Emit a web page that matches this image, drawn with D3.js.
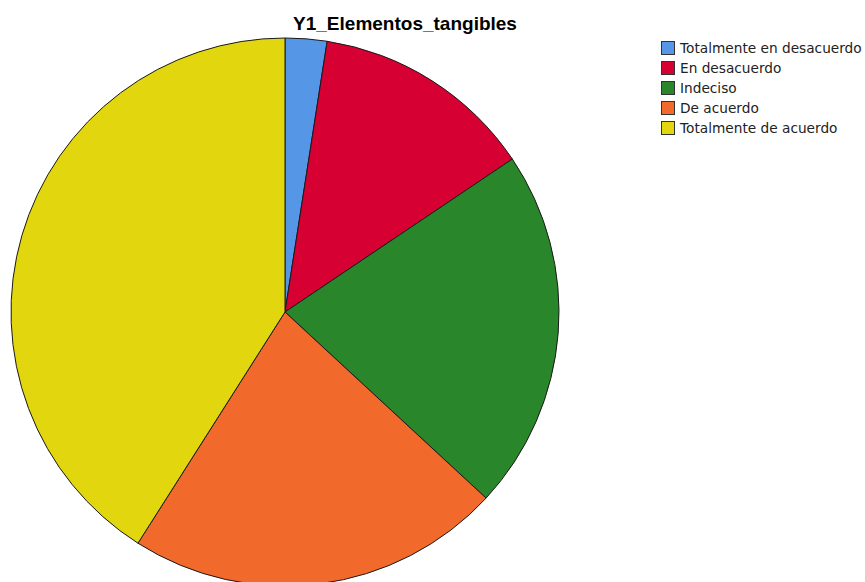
<!DOCTYPE html>
<html>
<head>
<meta charset="utf-8">
<script src="https://cdn.jsdelivr.net/npm/d3@7"></script>
<style>
  body { margin: 0; background: #fff; }
  svg { display: block; }
</style>
</head>
<body>
<div id="chart"></div>
<script>
// categories and counts
const categories = ["Totalmente en desacuerdo", "En desacuerdo", "Indeciso", "De acuerdo", "Totalmente de acuerdo"];
const counts = [3, 16, 26, 27, 50];
const colors = ["#5596e6", "#d60032", "#29862a", "#f2692c", "#e2d60f"];
const title = "Y1_Elementos_tangibles";

const width = 865, height = 582;
const cx = 285, cy = 312, radius = 274;

const svg = d3.select("#chart").append("svg")
  .attr("width", width)
  .attr("height", height);

// title
svg.append("text")
  .attr("x", 405)
  .attr("y", 30)
  .attr("text-anchor", "middle")
  .attr("font-family", "Liberation Sans, Arial, sans-serif")
  .attr("font-weight", "bold")
  .attr("font-size", "19px")
  .text(title);

// pie
const data = categories.map((c, i) => ({cat: c, value: counts[i], color: colors[i]}));
const pie = d3.pie().value(d => d.value).sort(null);
const arc = d3.arc().innerRadius(0).outerRadius(radius);

svg.append("g")
  .attr("transform", `translate(${cx},${cy})`)
  .selectAll("path")
  .data(pie(data))
  .enter().append("path")
    .attr("d", arc)
    .attr("fill", d => d.data.color)
    .attr("stroke", "#1a1a1a")
    .attr("stroke-width", 1);

// legend
const legend = svg.append("g")
  .attr("transform", "translate(661,41)");

const rows = legend.selectAll("g")
  .data(data)
  .enter().append("g")
    .attr("transform", (d, i) => `translate(0,${i * 20})`);

rows.append("rect")
  .attr("x", 0.5)
  .attr("y", 0.5)
  .attr("width", 13)
  .attr("height", 13)
  .attr("fill", d => d.color)
  .attr("stroke", "#333")
  .attr("stroke-width", 1);

rows.append("text")
  .attr("x", 19)
  .attr("y", 12)
  .attr("font-family", "DejaVu Sans, sans-serif")
  .attr("font-size", "13.7px")
  .attr("fill", "#222")
  .text(d => d.cat);
</script>
</body>
</html>
